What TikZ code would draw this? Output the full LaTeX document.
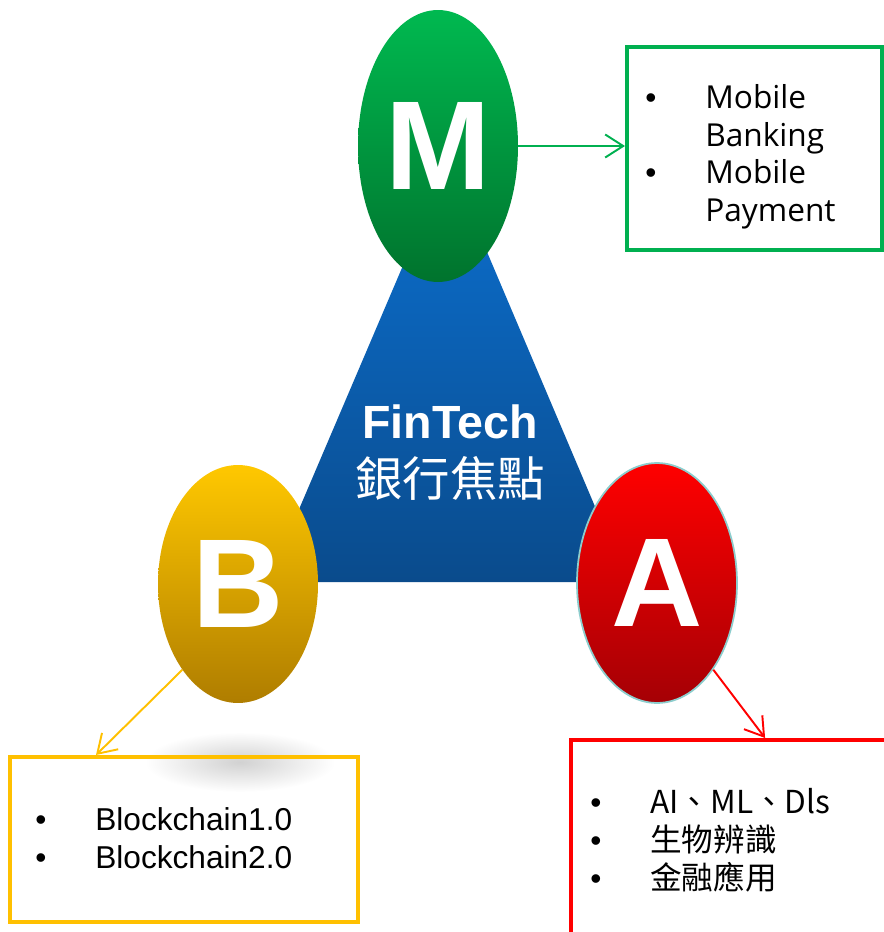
\documentclass[tikz,border=0pt]{standalone}
\usepackage{fontspec}
\setmainfont{Liberation Sans}
\newfontfamily\cjk{Noto Sans CJK TC}
\newfontfamily\segoe{Open Sans}
\usetikzlibrary{shapes.geometric,arrows.meta,calc}

\definecolor{triTop}{RGB}{12,112,208}
\definecolor{triBot}{RGB}{10,75,140}
\definecolor{mTop}{RGB}{0,185,80}
\definecolor{mBot}{RGB}{0,115,45}
\definecolor{bTop}{RGB}{255,200,0}
\definecolor{bBot}{RGB}{175,125,0}
\definecolor{aTop}{RGB}{255,0,0}
\definecolor{aBot}{RGB}{165,0,5}
\definecolor{aRim}{RGB}{140,205,205}
\definecolor{boxGreen}{RGB}{0,176,80}
\definecolor{boxYellow}{RGB}{255,192,0}
\definecolor{boxRed}{RGB}{255,0,0}

\newcommand{\bul}{\makebox[1.2cm][l]{\rmfamily\textbullet}}
\newcommand{\nobul}{\hspace*{1.2cm}}

\tikzset{
  letterbubble/.style={ellipse, inner sep=0pt, minimum width=3.2cm, text=white,
    font=\fontsize{72}{72}\selectfont\bfseries},
  listbox/.style={draw=#1, line width=2.3pt, inner sep=0pt},
  listtext/.style={anchor=north west, align=left, inner sep=0pt},
  link/.style={draw=#1, line width=1.1pt, -{Straight Barb[length=3.6mm,width=4.6mm]}}
}

\begin{document}
\begin{tikzpicture}[x=0.02cm, y=-0.02cm]
\useasboundingbox (0,0) rectangle (884,932);
\clip (0,0) rectangle (884,932);

% the triangle
\shade[top color=triTop, bottom color=triBot] (448,160) -- (627,582) -- (268,582) -- cycle;
\node[white, font=\fontsize{26.5}{26.5}\selectfont\bfseries] (fintech) at (450,422) {FinTech};
\node[white, font=\cjk\fontsize{27}{27}\selectfont] (focus) at (450,478) {銀行焦點};

% soft shadow below B
\shade[inner color=black!18, outer color=white] (240,762) ellipse (95 and 30);

% the three bubbles
\node[letterbubble, minimum height=5.44cm, top color=mTop, bottom color=mBot] (M) at (438,146) {M};
\node[letterbubble, minimum height=4.76cm, top color=bTop, bottom color=bBot] (B) at (238,584) {B};
\node[letterbubble, minimum height=4.8cm, top color=aTop, bottom color=aBot, draw=aRim, line width=1pt] (A) at (657,583) {A};

% the boxes
\node[listbox=boxGreen, minimum width=5.1cm, minimum height=4.06cm] (mbox) at (754.5,148.5) {};
\node[listbox=boxYellow, minimum width=6.96cm, minimum height=3.3cm] (bbox) at (184,839.5) {};
\node[listbox=boxRed, minimum width=6.8cm, minimum height=4.4cm] (abox) at (741,850) {};

\node[listtext, font=\segoe\fontsize{18}{21.5}\selectfont] (mlist) at (645,84)
  {\bul Mobile\\ \nobul Banking\\ \bul Mobile\\ \nobul Payment};
\node[listtext, font=\fontsize{18}{21.5}\selectfont] (blist) at (35,807)
  {\bul Blockchain1.0\\ \bul Blockchain2.0};
\node[listtext, font=\cjk\fontsize{18}{21.5}\selectfont] (alist) at (590,788)
  {\bul AI、ML、Dls\\ \bul 生物辨識\\ \bul 金融應用};

% connectors
\draw[link=boxGreen] (M.east) -- (M.east -| mbox.west);
\draw[link=boxYellow] (B.-123) -- ($(bbox.north west)!0.25!(bbox.north east)$);
\draw[link=boxRed] (A.-57) -- ($(abox.north west)!0.57!(abox.north east)$);
\end{tikzpicture}
\end{document}
